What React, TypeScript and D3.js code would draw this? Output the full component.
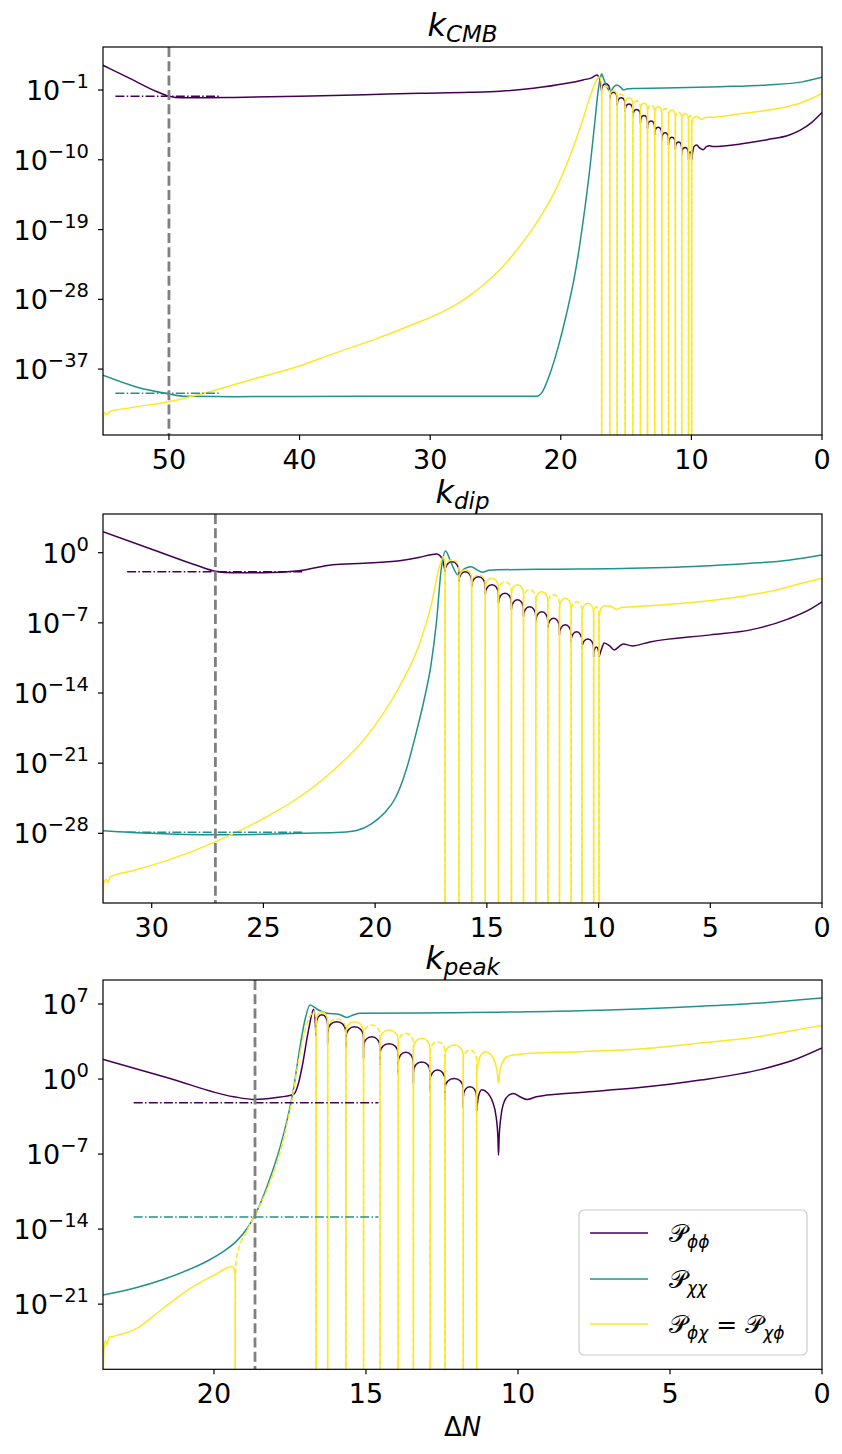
import React from 'react';
import * as d3 from 'd3';

type Pt = [number, number];

// ================= k_CMB panel (values are log10 of the spectra) =================
const cmbXDomain: [number, number] = [55.05, 0];
const cmbYDomain: [number, number] = [-45.5, 4.55];
const cmbXTicks = [50, 40, 30, 20, 10, 0];
const cmbYTicks = [-1, -10, -19, -28, -37];
const cmbCrossing = 50;
const cmbZeros = [16.87, 16.25, 15.68, 15.07, 14.48, 13.9, 13.36, 12.81, 12.27, 11.75, 11.23, 10.74, 10.22, 9.98];
const cmbPurplePre: Pt[] = [
  [55.05, 2.19], [53, 0.5], [51, -1.15], [50, -1.8], [49, -2.0], [48, -2.0], [45, -1.95], [40, -1.8],
  [35, -1.6], [30.8, -1.43], [27, -1.3], [24.65, -1.15], [22.1, -0.78], [19.55, -0.14], [18.3, 0.3],
  [17.6, 0.6], [17.25, 0.94], [17.0, 0.3], [16.87, -1.2],
];
const cmbPurplePeaks = [-0.2, -1.3, -2.0, -2.8, -3.5, -4.3, -5.0, -5.8, -6.5, -7.1, -7.7, -8.4, -9.0];
const cmbPurpleDepths = [-1.2, -2.3, -3.0, -3.8, -4.5, -5.3, -6.0, -6.8, -7.5, -8.1, -8.7, -9.4, -10.0, -10.0];
const cmbPurplePost: Pt[] = [
  [9.98, -10.0], [9.8, -8.3], [9.6, -8.1], [9.35, -8.5], [9.1, -8.7], [8.85, -8.3], [8.6, -8.2],
  [8.35, -8.3], [6, -7.9], [4.2, -7.4], [2.5, -6.8], [1.7, -6.2], [0.8, -5.2], [0, -3.9],
];
const cmbTeal: Pt[] = [
  [55.05, -37.8], [52.5, -39.3], [50, -40.2], [48.9, -40.5], [45, -40.55], [35, -40.5], [25, -40.5],
  [21.85, -40.5], [21.4, -39.9], [20.83, -37.6], [20.19, -34.1], [19.55, -29.8], [18.9, -24.6],
  [18.28, -17.8], [17.76, -10.9], [17.38, -4.9], [17.13, -1.0], [16.95, 0.7], [16.87, 1.1], [16.75, 0.6],
  [16.5, -0.5], [16.2, -1.2], [15.95, -0.6], [15.7, -0.35], [15.45, -0.6], [15.2, -1.0], [14.9, -0.85],
  [14.5, -0.8], [12, -0.75], [7.8, -0.57], [4.2, -0.35], [1.5, 0.05], [0, 0.64],
];
const cmbYellowPre: Pt[] = [
  [55.05, -47], [55.02, -43.2], [54.9, -42.6], [54.75, -42.9], [54.55, -42.5], [53, -42.0], [50, -41.2],
  [46, -39.5], [43.8, -38.4], [40, -36.6], [37.4, -35.0], [34, -33.0], [30.8, -30.9], [29.8, -30.2],
  [28.8, -29.4], [27.8, -28.45], [26.8, -27.3], [25.8, -25.95], [24.8, -24.4], [23.8, -22.55],
  [22.8, -20.4], [22.1, -18.75], [21.4, -16.9], [20.8, -15.2], [19.55, -10.6], [18.5, -5.8],
  [17.76, -1.9], [17.25, 0.3], [17.05, 0.7], [16.93, 0.2], [16.87, -0.6],
];
const cmbYellowSolidPeaks = [null, -1.1, null, -2.0, null, -2.7, null, -3.15, null, -3.6, null, -4.05, null];
const cmbYellowDashedPeaks = [-0.5, null, -1.55, null, -2.4, null, -2.95, null, -3.4, null, -3.85, null, -4.3];
const cmbYellowPost: Pt[] = [
  [9.98, -5.6], [9.9, -4.7], [9.6, -4.4], [9.4, -4.6], [9.2, -4.8], [9.0, -4.6], [8.8, -4.5], [8.35, -4.5],
  [6, -4.0], [4.2, -3.6], [1.7, -2.7], [0.8, -2.1], [0, -1.4],
];
const cmbPurpleRef = { level: -1.81, from: 54.1, to: 46.0 };
const cmbTealRef = { level: -40.1, from: 54.1, to: 46.0 };

// ================= k_dip panel =================
const dipXDomain: [number, number] = [32.18, 0];
const dipYDomain: [number, number] = [-34.95, 3.86];
const dipXTicks = [30, 25, 20, 15, 10, 5, 0];
const dipYTicks = [0, -7, -14, -21, -28];
const dipCrossing = 27.15;
const dipZeros = [16.87, 16.25, 15.68, 15.07, 14.48, 13.9, 13.36, 12.81, 12.27, 11.75, 11.23, 10.74, 10.22, 9.98];
const dipPurplePre: Pt[] = [
  [32.18, 2.09], [30, 0.35], [28, -1.25], [27.15, -1.85], [26.4, -2.0], [25, -2.0], [23.4, -1.8],
  [21.9, -1.2], [20.5, -1.05], [18.9, -0.8], [18.0, -0.45], [17.5, -0.2], [17.25, -0.13], [17.0, -0.6],
  [16.87, -1.9],
];
const dipPurplePeaks = [-0.9, -1.9, -2.4, -3.2, -4.05, -4.7, -5.4, -5.9, -6.55, -7.2, -7.9, -8.6, -9.4];
const dipPurpleDepths = [-1.9, -2.9, -3.4, -4.2, -5.05, -5.7, -6.4, -6.9, -7.55, -8.2, -8.9, -9.6, -10.4, -10.4];
const dipPurplePost: Pt[] = [
  [9.98, -10.4], [9.85, -9.5], [9.75, -9.0], [9.5, -9.3], [9.3, -9.7], [9.1, -9.4], [8.9, -9.1],
  [8.5, -9.3], [7.7, -8.9], [5, -8.2], [3.2, -7.7], [1.5, -6.6], [0.5, -5.6], [0, -4.9],
];
const dipTeal: Pt[] = [
  [32.18, -27.74], [30, -28.0], [27.1, -28.15], [25, -28.1], [23.4, -28.0], [21.5, -27.9],
  [20.8, -27.7], [20.2, -27.1], [19.6, -26.0], [19.1, -24.5], [18.6, -21.6], [18.2, -18.3],
  [17.8, -14.6], [17.5, -11.2], [17.25, -6.8], [17.05, -1.8], [16.85, 0.17], [16.6, -1.0], [16.3, -2.2],
  [16.0, -1.6], [15.7, -1.4], [15.45, -1.7], [15.2, -1.95], [14.9, -1.75], [14.5, -1.7], [12, -1.65],
  [8.5, -1.56], [5, -1.3], [3.2, -1.06], [1.5, -0.75], [0, -0.23],
];
const dipYellowPre: Pt[] = [
  [32.18, -36.5], [32.15, -33.0], [32.05, -32.6], [31.95, -32.9], [31.86, -32.35], [30.8, -31.7],
  [29.3, -30.7], [27.15, -28.85], [24.86, -26.35], [23.37, -24.35], [21.86, -21.7], [20.37, -18.3],
  [18.9, -13.3], [18.0, -9.0], [17.5, -5.3], [17.1, -1.2], [16.95, -0.4], [16.87, -0.9],
];
const dipYellowSolidPeaks = [null, -1.7, null, -2.55, null, -3.2, null, -3.9, null, -4.55, null, -5.05, null];
const dipYellowDashedPeaks = [-0.7, null, -2.2, null, -2.9, null, -3.7, null, -4.2, null, -4.9, null, -5.4];
const dipYellowPost: Pt[] = [
  [9.98, -6.5], [9.9, -5.6], [9.73, -5.3], [9.45, -5.35], [9.2, -5.65], [8.95, -5.45], [8.46, -5.4],
  [6, -5.0], [4, -4.5], [3.2, -4.2], [2, -3.7], [1, -3.1], [0, -2.55],
];
const dipPurpleRef = { level: -1.89, from: 31.1, to: 23.2 };
const dipTealRef = { level: -27.9, from: 31.1, to: 23.2 };

// ================= k_peak panel =================
const peakXDomain: [number, number] = [23.65, 0];
const peakYDomain: [number, number] = [-27.08, 9.24];
const peakXTicks = [20, 15, 10, 5, 0];
const peakYTicks = [7, 0, -7, -14, -21];
const peakCrossing = 18.65;
const peakZeros = [16.64, 16.26, 15.66, 15.08, 14.54, 13.94, 13.44, 12.89, 12.4, 11.8, 11.36];
const peakPurplePre: Pt[] = [
  [23.65, 1.84], [21.5, 0.1], [19.35, -1.65], [18.65, -1.9], [18.0, -1.75], [17.38, -1.43],
  [17.22, -0.4], [17.1, 1.15], [16.89, 4.57], [16.72, 6.5], [16.64, 4.0],
];
const peakPurplePeaks = [6.0, 5.35, 4.88, 3.95, 3.3, 2.5, 1.6, 0.84, 0.06, -0.72];
const peakPurpleDepths = [4.0, 3.35, 2.88, 1.95, 1.3, 0.5, -0.4, -1.16, -1.94, -2.72, -3.0];
const peakPurplePost: Pt[] = [
  [11.36, -3.0], [11.3, -1.6], [11.19, -1.0], [11.0, -1.3], [10.85, -2.0], [10.72, -3.5], [10.66, -5.5],
  [10.64, -7.1], [10.62, -5.5], [10.56, -3.5], [10.45, -2.1], [10.3, -1.5], [10.15, -1.34], [9.9, -1.7],
  [9.7, -1.9], [9.4, -1.65], [9.05, -1.5], [7.96, -1.25], [6, -0.8], [4, -0.1], [2, 0.9], [1, 1.7], [0, 2.9],
];
const peakTeal: Pt[] = [
  [23.65, -20.15], [22.6, -19.5], [21.72, -18.75], [20.8, -17.75], [20.2, -16.95], [19.7, -16.1],
  [19.25, -15.1], [18.9, -13.9], [18.65, -12.7], [18.4, -11.1], [18.1, -8.8], [17.83, -6.4],
  [17.6, -3.9], [17.4, -1.2], [17.17, 3.0], [17.0, 5.6], [16.84, 6.9], [16.7, 6.7],
  [16.56, 6.44], [16.28, 6.13], [15.9, 6.05], [15.63, 5.75], [15.4, 6.0], [15.19, 6.13], [12.34, 6.18],
  [7.96, 6.37], [4, 6.8], [2, 7.1], [0, 7.55],
];
const peakYellowPre: Pt[] = [
  [23.65, -29], [23.62, -25.3], [23.57, -24.4], [23.52, -24.8], [23.45, -24.1], [23.3, -24.0],
  [22.6, -23.36], [21.72, -21.5], [20.84, -19.64], [19.96, -18.24], [19.55, -17.6], [19.4, -17.5],
  [19.33, -17.8], [19.3, -18.6],
];
const peakYellowDashedPre: Pt[] = [
  [19.3, -30], [19.29, -18.0], [19.25, -16.55], [18.9, -14.07], [18.62, -12.5], [18.26, -10.35],
  [17.83, -6.9], [17.5, -2.9], [17.17, 2.4], [16.94, 5.2], [16.78, 6.13], [16.7, 6.25], [16.64, 5.6],
];
const peakYellowSolidPeaks = [6.28, null, 5.35, null, 4.57, null, 3.8, null, 3.17, null];
const peakYellowDashedPeaks = [null, 5.6, null, 5.04, null, 4.26, null, 3.48, null, 2.7];
const peakYellowPost: Pt[] = [
  [11.36, 0.5], [11.3, 1.6], [11.2, 2.3], [11.08, 2.55], [10.9, 2.3], [10.75, 1.5], [10.68, 0.6],
  [10.64, -0.4], [10.6, 0.6], [10.52, 1.5], [10.35, 2.1], [10.15, 2.24], [9.8, 2.35], [7.96, 2.55],
  [6, 2.8], [4, 3.36], [2, 4.0], [1, 4.5], [0, 5.0],
];
const peakPurpleRef = { level: -2.21, from: 22.64, to: 14.59 };
const peakTealRef = { level: -12.88, from: 22.64, to: 14.59 };

const legendLabels = [
  { main: '𝒫', sub: 'ϕϕ', tail: null as null | { main: string; sub: string } },
  { main: '𝒫', sub: 'χχ', tail: null as null | { main: string; sub: string } },
  { main: '𝒫', sub: 'ϕχ', tail: { main: '𝒫', sub: 'χϕ' } },
];

// ================= assembly =================
type PanelData = {
  title: string;
  xDomain: [number, number];
  yDomain: [number, number];
  xTicks: number[];
  yTicks: number[];
  crossing: number;
  zeros: number[];
  purplePre: Pt[];
  purplePeaks: number[];
  purpleDepths: number[];
  purplePost: Pt[];
  teal: Pt[];
  yellowPre: Pt[];
  yellowDashedPre: Pt[];
  yellowSolidPeaks: (number | null)[];
  yellowDashedPeaks: (number | null)[];
  yellowPost: Pt[];
  purpleRef: { level: number; from: number; to: number };
  tealRef: { level: number; from: number; to: number };
};

const PANELS: PanelData[] = [
  {
    title: 'CMB', xDomain: cmbXDomain, yDomain: cmbYDomain, xTicks: cmbXTicks, yTicks: cmbYTicks,
    crossing: cmbCrossing, zeros: cmbZeros, purplePre: cmbPurplePre, purplePeaks: cmbPurplePeaks,
    purpleDepths: cmbPurpleDepths, purplePost: cmbPurplePost, teal: cmbTeal, yellowPre: cmbYellowPre,
    yellowDashedPre: [], yellowSolidPeaks: cmbYellowSolidPeaks, yellowDashedPeaks: cmbYellowDashedPeaks,
    yellowPost: cmbYellowPost, purpleRef: cmbPurpleRef, tealRef: cmbTealRef,
  },
  {
    title: 'dip', xDomain: dipXDomain, yDomain: dipYDomain, xTicks: dipXTicks, yTicks: dipYTicks,
    crossing: dipCrossing, zeros: dipZeros, purplePre: dipPurplePre, purplePeaks: dipPurplePeaks,
    purpleDepths: dipPurpleDepths, purplePost: dipPurplePost, teal: dipTeal, yellowPre: dipYellowPre,
    yellowDashedPre: [], yellowSolidPeaks: dipYellowSolidPeaks, yellowDashedPeaks: dipYellowDashedPeaks,
    yellowPost: dipYellowPost, purpleRef: dipPurpleRef, tealRef: dipTealRef,
  },
  {
    title: 'peak', xDomain: peakXDomain, yDomain: peakYDomain, xTicks: peakXTicks, yTicks: peakYTicks,
    crossing: peakCrossing, zeros: peakZeros, purplePre: peakPurplePre, purplePeaks: peakPurplePeaks,
    purpleDepths: peakPurpleDepths, purplePost: peakPurplePost, teal: peakTeal, yellowPre: peakYellowPre,
    yellowDashedPre: peakYellowDashedPre, yellowSolidPeaks: peakYellowSolidPeaks,
    yellowDashedPeaks: peakYellowDashedPeaks, yellowPost: peakYellowPost, purpleRef: peakPurpleRef,
    tealRef: peakTealRef,
  },
];

// ================= layout & style =================
const W = 842;
const H = 1454;
const LEFT = 103;
const RIGHT = 822;
const BOXES = [
  { top: 47, bottom: 435 },
  { top: 514, bottom: 903 },
  { top: 980, bottom: 1369.3 },
];
const PURPLE = '#440154';
const TEAL = '#21918c';
const YELLOW = '#fde725';
const FONT = 'DejaVu Sans';
const LW = 1.5;
const ARCH_H = 1.0;

function archPath(
  zeros: number[], peaks: (number | null)[], depths: number[] | null,
  x: (v: number) => number, y: (v: number) => number, bottomV: number,
): string {
  const p = d3.path();
  for (let i = 0; i < zeros.length - 1; i++) {
    const pk = peaks[i];
    if (pk == null) continue;
    const d0 = depths ? depths[i] : bottomV;
    const d1 = depths ? depths[i + 1] : bottomV;
    const e0 = Math.max(d0, pk - ARCH_H);
    const e1 = Math.max(d1, pk - ARCH_H);
    const x0 = x(zeros[i]);
    const x1 = x(zeros[i + 1]);
    const P = y(pk);
    const E0 = y(e0);
    const E1 = y(e1);
    const c = (P - (E0 + E1) / 8) * 4 / 3;
    p.moveTo(x0, y(d0));
    p.lineTo(x0, E0);
    p.bezierCurveTo(x0, c, x1, c, x1, E1);
    p.lineTo(x1, y(d1));
  }
  return p.toString();
}

function Panel({ d, box, idx }: { d: PanelData; box: { top: number; bottom: number }; idx: number }) {
  const x = d3.scaleLinear().domain(d.xDomain).range([LEFT, RIGHT]);
  const yLog = d3.scaleLog()
    .domain([Math.pow(10, d.yDomain[0]), Math.pow(10, d.yDomain[1])])
    .range([box.bottom, box.top]);
  const y = (v: number) => yLog(Math.pow(10, v));
  const bottomV = d.yDomain[0] - 3;
  const line = d3.line<Pt>().x((p) => x(p[0])).y((p) => y(p[1])).curve(d3.curveMonotoneX);
  const cont = (pts: Pt[]) => (line(pts) || '').replace(/^M/, 'L');

  const purple = (line(d.purplePre) || '') +
    archPath(d.zeros, d.purplePeaks, d.purpleDepths, x, y, bottomV) +
    (line(d.purplePost) || '');

  const teal = line(d.teal) || '';

  const zFirst = d.zeros[0];
  const zLast = d.zeros[d.zeros.length - 1];
  let ySolid = '';
  if (d.yellowPre.length) {
    const last = d.yellowPre[d.yellowPre.length - 1];
    ySolid += (line(d.yellowPre) || '') + `L${x(last[0])},${y(bottomV)}`;
  }
  ySolid += archPath(d.zeros, d.yellowSolidPeaks, null, x, y, bottomV);
  if (d.yellowPost.length) {
    ySolid += `M${x(zLast)},${y(bottomV)}` + cont(d.yellowPost);
  }
  let yDashed = '';
  if (d.yellowDashedPre.length) {
    yDashed += (line(d.yellowDashedPre) || '') + `L${x(zFirst)},${y(bottomV)}`;
  }
  yDashed += archPath(d.zeros, d.yellowDashedPeaks, null, x, y, bottomV);

  const clipId = `clip${idx}`;
  const w = RIGHT - LEFT;
  const h = box.bottom - box.top;
  const cx = (LEFT + RIGHT) / 2;

  return (
    <g>
      <defs>
        <clipPath id={clipId}>
          <rect x={LEFT} y={box.top} width={w} height={h} />
        </clipPath>
      </defs>
      <g clipPath={`url(#${clipId})`} fill="none" strokeLinejoin="round">
        <path d={purple} stroke={PURPLE} strokeWidth={LW} />
        <path d={teal} stroke={TEAL} strokeWidth={LW} />
        <path d={ySolid} stroke={YELLOW} strokeWidth={LW} />
        <path d={yDashed} stroke={YELLOW} strokeWidth={LW} strokeDasharray="5.5,2.4" />
        <line x1={x(d.purpleRef.from)} x2={x(d.purpleRef.to)} y1={y(d.purpleRef.level)} y2={y(d.purpleRef.level)}
          stroke={PURPLE} strokeWidth={1.5} strokeDasharray="9,2.3,1.5,2.3" />
        <line x1={x(d.tealRef.from)} x2={x(d.tealRef.to)} y1={y(d.tealRef.level)} y2={y(d.tealRef.level)}
          stroke={TEAL} strokeWidth={1.5} strokeDasharray="9,2.3,1.5,2.3" />
        <line x1={x(d.crossing)} x2={x(d.crossing)} y1={box.top} y2={box.bottom}
          stroke="#808080" strokeWidth={2.8} strokeDasharray="10,4.3" />
      </g>
      <rect x={LEFT} y={box.top} width={w} height={h} fill="none" stroke="#000" strokeWidth={1.2} />
      {d.xTicks.map((t) => (
        <g key={`x${t}`}>
          <line x1={x(t)} x2={x(t)} y1={box.bottom} y2={box.bottom + 5} stroke="#000" strokeWidth={1.2} />
          <text x={x(t)} y={box.bottom + 34} textAnchor="middle" fontSize={27} fontFamily={FONT}>{t}</text>
        </g>
      ))}
      {d.yTicks.map((t) => (
        <g key={`y${t}`}>
          <line x1={LEFT - 5} x2={LEFT} y1={y(t)} y2={y(t)} stroke="#000" strokeWidth={1.2} />
          <text x={89} y={y(t) + 10} textAnchor="end" fontSize={27} fontFamily={FONT}>
            10<tspan dy={-12} fontSize={19.5}>{t < 0 ? `\u2212${-t}` : `${t}`}</tspan>
          </text>
        </g>
      ))}
      <text x={cx} y={box.top - 11} textAnchor="middle" fontSize={32} fontStyle="italic" fontFamily={FONT}>
        k<tspan dy={6} fontSize={23}>{d.title}</tspan>
      </text>
    </g>
  );
}

function Legend() {
  const bx = 579;
  const by = 1210;
  const rows = [1233, 1279, 1324];
  const colors = [PURPLE, TEAL, YELLOW];
  return (
    <g fontFamily={FONT}>
      <rect x={bx} y={by} width={228} height={145} rx={5} fill="#fff" fillOpacity={0.8} stroke="#cccccc" strokeWidth={1.2} />
      {legendLabels.map((lab, i) => (
        <g key={i}>
          <line x1={590} x2={648} y1={rows[i]} y2={rows[i]} stroke={colors[i]} strokeWidth={LW} />
          <text x={669} y={rows[i] + 9} fontSize={25}>
            {lab.main}
            <tspan dy={6} fontSize={17} fontStyle="italic">{lab.sub}</tspan>
            {lab.tail ? (
              <>
                <tspan dy={-6}>{' = '}</tspan>
                {lab.tail.main}
                <tspan dy={6} fontSize={17} fontStyle="italic">{lab.tail.sub}</tspan>
              </>
            ) : null}
          </text>
        </g>
      ))}
    </g>
  );
}

export default function App() {
  return (
    <svg width={W} height={H} style={{ position: 'absolute', left: 0, top: 0, background: '#fff' }}>
      <rect x={0} y={0} width={W} height={H} fill="#fff" />
      {PANELS.map((p, i) => (
        <Panel key={i} d={p} box={BOXES[i]} idx={i} />
      ))}
      <Legend />
      <text x={(LEFT + RIGHT) / 2} y={1436} textAnchor="middle" fontSize={26} fontFamily={FONT}>
        Δ<tspan fontStyle="italic">N</tspan>
      </text>
    </svg>
  );
}
